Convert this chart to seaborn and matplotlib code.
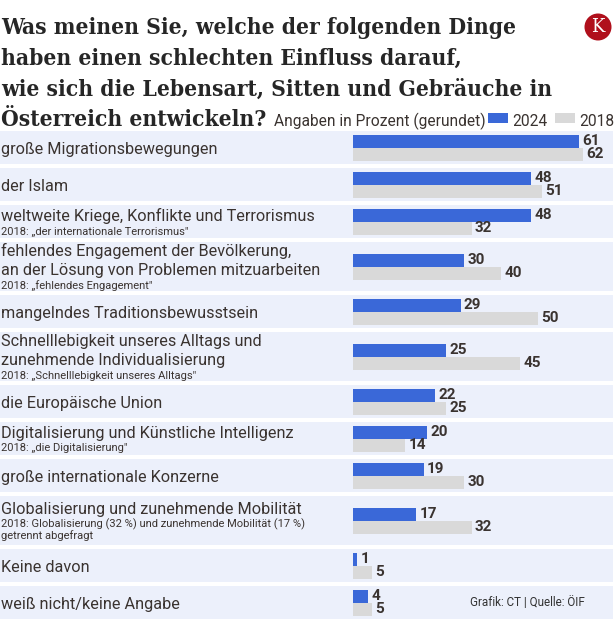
import matplotlib
matplotlib.use("Agg")
import matplotlib.pyplot as plt
import numpy as np
import pandas as pd
import seaborn as sns
from matplotlib.patches import Rectangle, Circle
from matplotlib.transforms import IdentityTransform
from matplotlib import font_manager

# ---------------- data ----------------
categories = [
    "große Migrationsbewegungen",
    "der Islam",
    "weltweite Kriege, Konflikte und Terrorismus",
    "fehlendes Engagement der Bevölkerung,\nan der Lösung von Problemen mitzuarbeiten",
    "mangelndes Traditionsbewusstsein",
    "Schnelllebigkeit unseres Alltags und\nzunehmende Individualisierung",
    "die Europäische Union",
    "Digitalisierung und Künstliche Intelligenz",
    "große internationale Konzerne",
    "Globalisierung und zunehmende Mobilität",
    "Keine davon",
    "weiß nicht/keine Angabe",
]
notes = [
    "",
    "",
    "2018: „der internationale Terrorismus\"",
    "2018: „fehlendes Engagement\"",
    "",
    "2018: „Schnelllebigkeit unseres Alltags\"",
    "",
    "2018: „die Digitalisierung\"",
    "",
    "2018: Globalisierung (32 %) und zunehmende Mobilität (17 %)\ngetrennt abgefragt",
    "",
    "",
]
years = ["2024", "2018"]
values_2024 = [61, 48, 48, 30, 29, 25, 22, 20, 19, 17, 1, 4]
values_2018 = [62, 51, 32, 40, 50, 45, 25, 14, 30, 32, 5, 5]

title_lines = [
    "Was meinen Sie, welche der folgenden Dinge",
    "haben einen schlechten Einfluss darauf,",
    "wie sich die Lebensart, Sitten und Gebräuche in",
    "Österreich entwickeln?",
]
legend_note = "Angaben in Prozent (gerundet)"
source_text = "Grafik: CT | Quelle: ÖIF"
logo_text = "K"

# ---------------- style / layout ----------------
W, H = 616, 620
BLUE = "#3a68d8"
GRAY = "#d9d9d9"
BAND = "#ecf0fb"
TXT = "#3a3330"
TITLE_C = "#262626"
LOGO_C = "#b0101c"
X0, PPU = 353.3, 3.70          # bar origin (px) and pixels per percent
TOP, GAP, H1, H3 = 131, 4, 33, 49
BAR_PX = 13
SANS = ["Roboto", "DejaVu Sans"]

# prefer a condensed bold serif for the title if one is installed
_cond = [f for f in font_manager.fontManager.ttflist
         if "DejaVu Serif" in f.name and "ondensed" in (f.fname + f.name)
         and "Bold" in f.fname and "Italic" not in f.fname]
if _cond:
    title_font = font_manager.FontProperties(fname=_cond[0].fname)
else:
    title_font = font_manager.FontProperties(family="DejaVu Serif", weight="bold")

sns.set_theme(style="white")
plt.rcParams["font.family"] = SANS

fig = plt.figure(figsize=(W / 100, H / 100), dpi=100)
fig.patch.set_facecolor("white")
ax = fig.add_axes([0, 0, 1, 1])


def px(x):
    return (x - X0) / PPU


# row geometry derived from number of text lines
tops, heights = [], []
y = TOP
for c, n in zip(categories, notes):
    nl = c.count("\n") + 1 + (n.count("\n") + 1 if n else 0)
    h = H3 if nl >= 3 else H1
    tops.append(y)
    heights.append(h)
    y += h + GAP
centers = [t + h / 2 for t, h in zip(tops, heights)]

df = pd.DataFrame({
    "pos": centers * 2,
    "value": values_2024 + values_2018,
    "year": [years[0]] * len(values_2024) + [years[1]] * len(values_2018),
})

min_d = float(np.min(np.diff(centers)))
sns.barplot(data=df, x="value", y="pos", hue="year", hue_order=years,
            orient="y", native_scale=True, width=2 * BAR_PX / min_d,
            palette=[BLUE, GRAY], saturation=1, errorbar=None,
            legend=False, linewidth=0, ax=ax, zorder=3)

ax.set_xlim(px(0), px(W))
ax.set_ylim(H, 0)
ax.axis("off")

# bands
for t, h in zip(tops, heights):
    ax.axhspan(t, t + h, xmin=0, xmax=613 / W, color=BAND, zorder=0, lw=0)

# ---------- font fitting ----------
r = fig.canvas.get_renderer()


def fitted(text, target, size, fp=None, **kw):
    if fp is not None:
        fp = fp.copy()
        fp.set_size(size)
        t = ax.text(0, 0, text, fontproperties=fp)
    else:
        t = ax.text(0, 0, text, fontsize=size, **kw)
    w = t.get_window_extent(r).width
    t.remove()
    return size * target / w


fs_title = 0.5 * (fitted(title_lines[2], 565, 17, fp=title_font)
                  + fitted(title_lines[3], 258, 17, fp=title_font))
tfp = title_font.copy()
tfp.set_size(fs_title)
fs_cat = fitted(categories[2], 312, 11, family=SANS)
fs_note = fitted(notes[2], 188, 8, family=SANS)
fs_leg = fitted(legend_note, 221, 10, family=SANS)
fs_val = 11.0

# value labels
for cont in ax.containers:
    ax.bar_label(cont, fmt="%d", padding=2.4, fontsize=fs_val,
                 fontweight="bold", color=TXT, family=SANS)

# category labels
for c, n, cy in zip(categories, notes, centers):
    items = [(s, "m") for s in c.split("\n")]
    if n:
        items += [(s, "n") for s in n.split("\n")]
    offs = [0.0]
    for prev, cur in zip(items[:-1], items[1:]):
        if prev[1] == "m" and cur[1] == "m":
            step = 19
        elif prev[1] == "m":
            step = 15
        else:
            step = 12
        offs.append(offs[-1] + step)
    shift = cy + 1.0 - (offs[0] + offs[-1]) / 2
    for (s, k), o in zip(items, offs):
        fs = fs_cat if k == "m" else fs_note
        ax.text(px(1), shift + o + fs / 0.72 * 0.36, s, fontsize=fs,
                color=TXT, va="baseline", ha="left")

# title
for i, line in enumerate(title_lines):
    tt = ax.text(px(1), [34, 65, 96, 126][i], line, fontproperties=tfp,
                 color=TITLE_C, va="baseline", ha="left")
last_title = tt

# legend next to last title line (shrinks if it would not fit)
bb = last_title.get_window_extent(r)


def place_legend(fs):
    arts = []
    xl = bb.x1 + 8
    lt = ax.text(px(xl), 126, legend_note, fontsize=fs, color=TXT,
                 va="baseline", ha="left")
    arts.append(lt)
    xl = lt.get_window_extent(r).x1 + 2
    for yr, colr in zip(years, [BLUE, GRAY]):
        p = Rectangle((px(xl), 113), 20 / PPU, 10, color=colr, lw=0)
        ax.add_patch(p)
        arts.append(p)
        t = ax.text(px(xl + 24), 126, yr, fontsize=fs, color=TXT,
                    va="baseline", ha="left")
        arts.append(t)
        end = t.get_window_extent(r).x1
        xl = end + 8
    return arts, end


arts, end = place_legend(fs_leg)
if end > 614:
    for a in arts:
        a.remove()
    avail = 614 - (bb.x1 + 8)
    used = end - (bb.x1 + 8)
    fs2 = fs_leg * (avail - 62) / (used - 62)
    place_legend(fs2)

# source
ax.text(px(470), 606, source_text, fontsize=8.4, color="#333333",
        va="baseline", ha="left")

# logo
fig.add_artist(Circle((598, H - 27), 13.5, transform=IdentityTransform(),
                      color=LOGO_C, lw=0))
fig.text(598 / W, 1 - 27.5 / H, logo_text, color="white", fontsize=13,
         family=["DejaVu Serif"], ha="center", va="center")

fig.savefig("out.png", dpi=100, facecolor="white")
